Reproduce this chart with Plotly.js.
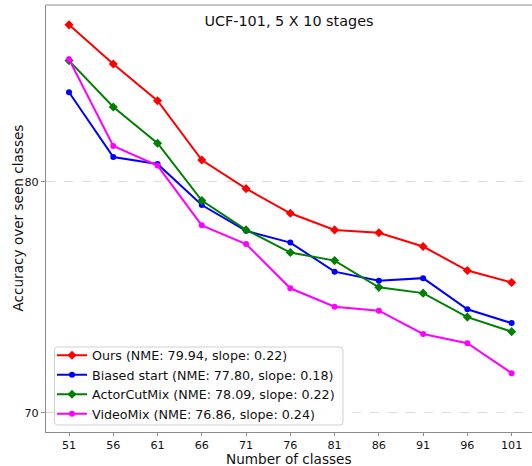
<!DOCTYPE html>
<html>
<head>
<meta charset="utf-8">
<script src="https://cdn.plot.ly/plotly-3.0.1.min.js"></script>
<style>
  html, body { margin: 0; padding: 0; background: #fff; }
  #chart { width: 532px; height: 466px; }
</style>
</head>
<body>
<div id="chart"></div>
<script>
// Number of classes seen after each incremental stage
const classes = [51, 56, 61, 66, 71, 76, 81, 86, 91, 96, 101];

// Accuracy over seen classes per method
const ours        = [86.81, 85.11, 83.52, 80.95, 79.71, 78.64, 77.92, 77.80, 77.20, 76.16, 75.64];
const biasedStart = [83.89, 81.08, 80.78, 79.00, 77.88, 77.37, 76.11, 75.72, 75.83, 74.48, 73.88];
const actorCutMix = [85.26, 83.25, 81.68, 79.19, 77.92, 76.94, 76.59, 75.43, 75.18, 74.14, 73.51];
const videoMix    = [85.32, 81.56, 80.71, 78.12, 77.31, 75.39, 74.59, 74.42, 73.41, 73.01, 71.71];

const seriesNames = [
  'Ours (NME: 79.94, slope: 0.22)',
  'Biased start (NME: 77.80, slope: 0.18)',
  'ActorCutMix (NME: 78.09, slope: 0.22)',
  'VideoMix (NME: 76.86, slope: 0.24)'
];
const yTicks = [70, 80];

const FONT = 'DejaVu Sans, sans-serif';
const INK = '#111';
const SPINE = '#8c8c8c';

// plot area geometry in pixels (used for the legend frame)
const W = 532, H = 466, ML = 46, MT = 5, MB = 34;
const PW = W - ML, PH = H - MT - MB;
const px = v => (v - ML) / PW;          // page x -> paper x
const py = v => (H - MB - v) / PH;      // page y -> paper y

function line(y, name, color, symbol, size) {
  return {
    x: classes, y: y, name: name, type: 'scatter', mode: 'lines+markers',
    line: { color: color, width: 2 },
    marker: { color: color, symbol: symbol, size: size },
    cliponaxis: false
  };
}

const data = [
  line(ours, seriesNames[0], '#ff0000', 'diamond', 7),
  line(biasedStart, seriesNames[1], '#0000ff', 'circle', 6),
  line(actorCutMix, seriesNames[2], '#008000', 'diamond', 7),
  line(videoMix, seriesNames[3], '#ff00ff', 'circle', 6)
];

// rounded legend frame
function roundedRect(x0, y0, x1, y1, r) {
  const X0 = px(x0), X1 = px(x1), Y0 = py(y0), Y1 = py(y1);
  const rx = r / PW, ry = r / PH;
  return `M ${X0 + rx},${Y0} L ${X1 - rx},${Y0} Q ${X1},${Y0} ${X1},${Y0 - ry} ` +
         `L ${X1},${Y1 + ry} Q ${X1},${Y1} ${X1 - rx},${Y1} L ${X0 + rx},${Y1} ` +
         `Q ${X0},${Y1} ${X0},${Y1 + ry} L ${X0},${Y0 - ry} Q ${X0},${Y0} ${X0 + rx},${Y0} Z`;
}

const layout = {
  width: W, height: H,
  margin: { l: ML, r: 0, t: MT, b: MB },
  paper_bgcolor: '#fff', plot_bgcolor: '#fff',
  font: { family: FONT, color: INK, size: 12 },
  showlegend: true,
  title: {
    text: 'UCF-101, 5 X 10 stages',
    font: { family: FONT, size: 14.4, color: INK },
    xref: 'paper', x: 0.5, xanchor: 'center',
    yref: 'container', y: 1 - 20.5 / H, yanchor: 'middle'
  },
  xaxis: {
    range: [48.4, 103.3],
    tickvals: classes, ticktext: classes.map(String),
    showgrid: false, zeroline: false,
    showline: true, linecolor: SPINE, linewidth: 1,
    ticks: 'outside', ticklen: 3, tickcolor: SPINE,
    tickfont: { family: FONT, size: 11.2, color: INK },
    automargin: false
  },
  yaxis: {
    range: [69.16, 87.67],
    tickvals: yTicks, ticktext: yTicks.map(String),
    showgrid: true, gridcolor: '#dcdcdc', griddash: 'dash', gridwidth: 1,
    zeroline: false,
    showline: true, linecolor: SPINE, linewidth: 1,
    ticks: 'outside', ticklen: 4, tickcolor: SPINE,
    tickfont: { family: FONT, size: 11.2, color: INK },
    automargin: false
  },
  legend: {
    x: px(52), y: py(429.5), xanchor: 'left', yanchor: 'bottom',
    bgcolor: 'rgba(0,0,0,0)', borderwidth: 0,
    font: { family: FONT, size: 12.7, color: INK },
    tracegroupgap: 0
  },
  annotations: [
    { text: 'Number of classes', xref: 'paper', yref: 'paper',
      x: 0.5, y: -26.5 / PH, xanchor: 'center', yanchor: 'middle',
      showarrow: false, font: { family: FONT, size: 13.6, color: INK } },
    { text: 'Accuracy over seen classes', xref: 'paper', yref: 'paper',
      x: -29 / PW, y: 0.5, xanchor: 'center', yanchor: 'middle', textangle: -90,
      showarrow: false, font: { family: FONT, size: 13.6, color: INK } }
  ],
  shapes: [
    { type: 'line', xref: 'paper', yref: 'paper', x0: 0, x1: 1, y0: 1, y1: 1,
      line: { color: SPINE, width: 1 } },
    { type: 'path', xref: 'paper', yref: 'paper', layer: 'above',
      path: roundedRect(54.5, 347, 343, 425, 3),
      fillcolor: 'rgba(255,255,255,0.8)', line: { color: '#d0d0d0', width: 1 } }
  ]
};

Plotly.newPlot('chart', data, layout, { displayModeBar: false, staticPlot: true });
</script>
</body>
</html>
